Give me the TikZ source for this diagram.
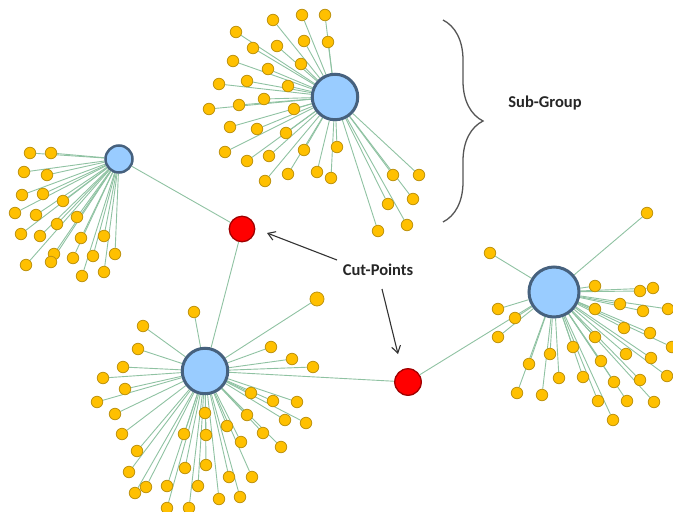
\documentclass[tikz,border=0pt]{standalone}
\usepackage{fontspec}
\setmainfont{Carlito}
\usetikzlibrary{arrows.meta,backgrounds,decorations.pathreplacing}
\definecolor{edgegreen}{HTML}{8FC2A2}
\definecolor{leafyellow}{HTML}{FFC000}
\definecolor{leafborder}{HTML}{BF9410}
\definecolor{hubblue}{HTML}{99CCFF}
\definecolor{hubborder}{HTML}{46617E}
\definecolor{cutred}{HTML}{FF0000}
\definecolor{cutborder}{HTML}{A00000}
\definecolor{inkgray}{HTML}{555555}
\begin{document}
\begin{tikzpicture}[x=1pt,y=-1pt,
  leaf/.style={circle,fill=leafyellow,draw=leafborder,line width=0.8pt,minimum size=11.5pt,inner sep=0pt},
  bigleaf/.style={leaf,minimum size=14pt},
  hub/.style={circle,fill=hubblue,draw=hubborder,line width=3pt,inner sep=0pt},
  cut/.style={circle,fill=cutred,draw=cutborder,line width=1.3pt,minimum size=25.5pt,inner sep=0pt},
  link/.style={draw=edgegreen,line width=0.9pt},
  lbl/.style={font=\bfseries\fontsize{16.5}{18}\selectfont,text=black!85,inner sep=0pt},
  pointer/.style={-{Straight Barb[length=7pt,width=9pt]},line width=1.1pt,draw=black!80},
  bracestyle/.style={draw=inkgray,line width=1.3pt,decorate,decoration={brace,amplitude=40pt}}]
\useasboundingbox (0,0) rectangle (673,512);

% hubs and cut-points
\node[hub,minimum size=45.5pt] (h1) at (335,97) {};
\node[hub,minimum size=27pt,line width=2.5pt] (h2) at (119,159) {};
\node[hub,minimum size=45.5pt] (h3) at (205,371) {};
\node[hub,minimum size=50pt] (h4) at (554,292) {};
\node[cut] (c1) at (242,229) {};
\node[cut,minimum size=26.5pt] (c2) at (408,382) {};

\begin{scope}[on background layer]
  \draw[link] (h2) -- (c1);
  \draw[link] (c1) -- (h3);
  \draw[link] (h3) -- (c2);
  \draw[link] (c2) -- (h4);
\end{scope}

% cluster 1
\foreach \x/\y [count=\i] in {273/20, 302/15, 325/15, 236/32, 253/48, 277/46, 304/41, 328/42, 233/61, 268/69, 301/64, 219/84, 247/81, 288/86, 209/109, 239/105, 264/99, 294/109, 230/127, 257/129, 286/133, 225/152, 247/161, 269/156, 304/150, 337/147, 265/181, 288/174, 317/172, 331/178, 393/175, 419/175, 388/204, 413/199, 378/231, 407/225}{
  \node[leaf] (a\i) at (\x,\y) {};
  \scoped[on background layer] \draw[link] (h1) -- (a\i);
}

% cluster 2
\foreach \x/\y [count=\i] in {30/153, 51/153, 24/172, 47/175, 22/195, 43/194, 63/201, 15/213, 36/215, 77/217, 57/224, 21/234, 40/236, 81/238, 104/236, 54/254, 73/258, 93/256, 115/254, 26/265, 51/262, 82/276, 104/272}{
  \node[leaf] (b\i) at (\x,\y) {};
  \scoped[on background layer] \draw[link] (h2) -- (b\i);
}

% cluster 3
\foreach \x/\y [count=\i] in {194/312, 143/326, 138/349, 123/367, 103/378, 125/389, 97/402, 115/414, 122/434, 137/451, 129/472, 146/487, 135/493, 167/486, 167/508, 189/508, 185/468, 184/434, 205/413, 206/435, 206/465, 198/486, 227/426, 241/442, 229/477, 219/499, 240/497, 252/477, 247/415, 251/393, 273/401, 297/402, 285/420, 306/423, 263/433, 281/447, 271/347, 292/359, 313/367}{
  \node[leaf] (d\i) at (\x,\y) {};
  \scoped[on background layer] \draw[link] (h3) -- (d\i);
}
\node[bigleaf] (dbig) at (317,299) {};
\scoped[on background layer] \draw[link] (h3) -- (dbig);

% cluster 4
\foreach \x/\y [count=\i] in {647/213, 490/253, 498/309, 515/318, 498/337, 595/286, 640/291, 653/288, 620/304, 643/311, 668/309, 595/309, 624/328, 650/333, 672/347, 595/337, 573/347, 550/354, 529/364, 517/393, 542/395, 559/378, 583/377, 601/361, 626/354, 651/358, 667/376, 640/380, 614/382, 598/401, 627/401, 654/402, 613/420}{
  \node[leaf] (e\i) at (\x,\y) {};
  \scoped[on background layer] \draw[link] (h4) -- (e\i);
}

% labels
\node[lbl] (sub) at (545,103) {Sub-Group};
\node[lbl] (cp) at (378,270) {Cut-Points};

% brace
\coordinate (bt) at (443,20);
\coordinate (bb) at (443,222);
\draw[bracestyle] (bt) -- (bb);

% pointers
\coordinate (s1) at (337,260);
\coordinate (t1) at (267,233);
\coordinate (s2) at (382,289);
\coordinate (t2) at (398,354);
\draw[pointer] (s1) -- (t1);
\draw[pointer] (s2) -- (t2);
\end{tikzpicture}
\end{document}
